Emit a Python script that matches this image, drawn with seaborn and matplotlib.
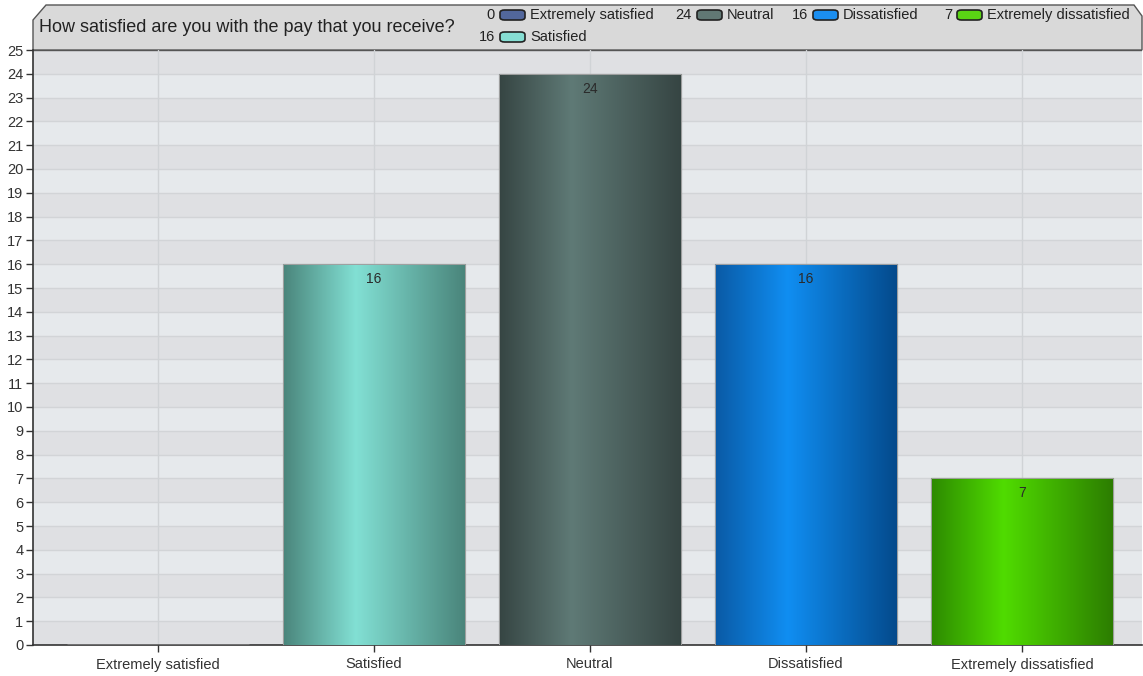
import numpy as np
import pandas as pd
import matplotlib
matplotlib.use("Agg")
import matplotlib.pyplot as plt
import seaborn as sns
from matplotlib.colors import LinearSegmentedColormap
from matplotlib.patches import Polygon, FancyBboxPatch

# data
categories = ["Extremely satisfied", "Satisfied", "Neutral", "Dissatisfied", "Extremely dissatisfied"]
counts = [0, 16, 24, 16, 7]
title = "How satisfied are you with the pay that you receive?"

# bar gradients: left edge, highlight, right edge
grad_colors = {
    "Extremely satisfied": ["#34467a", "#6a82c0", "#34467a"],
    "Satisfied": ["#4a857b", "#82e0d4", "#4a857b"],
    "Neutral": ["#364543", "#5f7a76", "#364543"],
    "Dissatisfied": ["#0a5aa5", "#108ef2", "#044a8c"],
    "Extremely dissatisfied": ["#2d8a00", "#50dc00", "#2c7d00"],
}
legend_colors = {
    "Extremely satisfied": "#52679c",
    "Satisfied": "#86ded3",
    "Neutral": "#617874",
    "Dissatisfied": "#1a8ef0",
    "Extremely dissatisfied": "#5ad414",
}

W, H = 1143, 676
sns.set_theme(style="white")
plt.rcParams["font.family"] = ["Liberation Sans", "DejaVu Sans"]

fig = plt.figure(figsize=(W / 100, H / 100), dpi=100)
ax = fig.add_axes([33 / W, 31 / H, 1109 / W, 595 / H])

df = pd.DataFrame({"cat": categories, "n": counts})
sns.barplot(data=df, x="cat", y="n", hue="cat", palette=[grad_colors[c][1] for c in categories],
            width=0.84, legend=False, ax=ax, zorder=3)

# striped background
for i in range(25):
    ax.axhspan(i, i + 1, color="#dfe0e3" if i % 2 == 0 else "#e6e9ec", zorder=0, lw=0)
for i in range(1, 25):
    ax.axhline(i, color="#d2d4d7", lw=1, zorder=1)
ax.axhline(25, color="#555555", lw=1, zorder=1)
for i in range(len(categories)):
    ax.axvline(i, color="#d0d3d6", lw=1, zorder=1)

# gradient fills on bars
for patch, cat, v in zip(ax.patches, categories, counts):
    if v <= 0:
        continue
    x0, y0 = patch.get_x(), patch.get_y()
    w, h = patch.get_width(), patch.get_height()
    cmap = LinearSegmentedColormap.from_list(cat, [(0, grad_colors[cat][0]), (0.4, grad_colors[cat][1]), (1, grad_colors[cat][2])])
    grad = np.linspace(0, 1, 256).reshape(1, -1)
    im = ax.imshow(grad, cmap=cmap, aspect="auto", extent=[x0, x0 + w, y0, y0 + h], zorder=4)
    im.set_clip_path(patch)
    patch.set_edgecolor(grad_colors[cat][2])
    patch.set_linewidth(0.8)
    ax.add_patch(plt.Rectangle((x0, y0), w, h, fill=False, ec="#a0a0a0", lw=0.7, zorder=5))
    ax.text(x0 + w / 2, v - 0.62, str(v), ha="center", va="center", fontsize=10, color="#2a2a2a", zorder=6)

ax.set_aspect("auto")
ax.set_xlim(-0.579, 4.556)
ax.set_ylim(0, 25)
ax.set_yticks(range(26))
ax.set_xlabel("")
ax.set_ylabel("")
ax.tick_params(axis="both", which="both", left=True, bottom=True, direction="out", length=5, width=1,
               colors="#333333", labelsize=10.5, labelcolor="#333333", pad=2)
ax.tick_params(axis="x", labelsize=10.5, pad=4)
for s in ["top", "right"]:
    ax.spines[s].set_visible(False)
for s in ["left", "bottom"]:
    ax.spines[s].set_color("#333333")
    ax.spines[s].set_linewidth(1.2)


def fx(x):
    return x / W


def fy(y):
    return 1 - y / H


# header band with cut corner
hdr = Polygon([(fx(33), fy(50)), (fx(33), fy(20)), (fx(46), fy(5)), (fx(1134), fy(5)),
               (fx(1142), fy(16)), (fx(1142), fy(50))],
              closed=True, transform=fig.transFigure, fc="#d9d9d9", ec="#555555", lw=1, zorder=0)
fig.add_artist(hdr)
fig.text(fx(39), fy(27), title, fontsize=13, color="#222222", va="center", ha="left")

# legend in header (x = right end of the count number, y = row centre)
legend_pos = {
    "Extremely satisfied": (495, 15),
    "Neutral": (692, 15),
    "Dissatisfied": (808, 15),
    "Extremely dissatisfied": (952, 15),
    "Satisfied": (495, 37),
}
for cat, v in zip(categories, counts):
    x, y = legend_pos[cat]
    fig.text(fx(x), fy(y), str(v), fontsize=10.5, color="#222222", ha="right", va="center")
    icon = FancyBboxPatch((fx(x + 5), fy(y + 5)), fx(25), 10 / H,
                          boxstyle="round,pad=0,rounding_size=0.004", transform=fig.transFigure,
                          fc=legend_colors[cat], ec="#222222", lw=1.2)
    fig.add_artist(icon)
    fig.text(fx(x + 35), fy(y), cat, fontsize=10.5, color="#222222", ha="left", va="center")

fig.savefig("out.png", dpi=100, facecolor="white")
